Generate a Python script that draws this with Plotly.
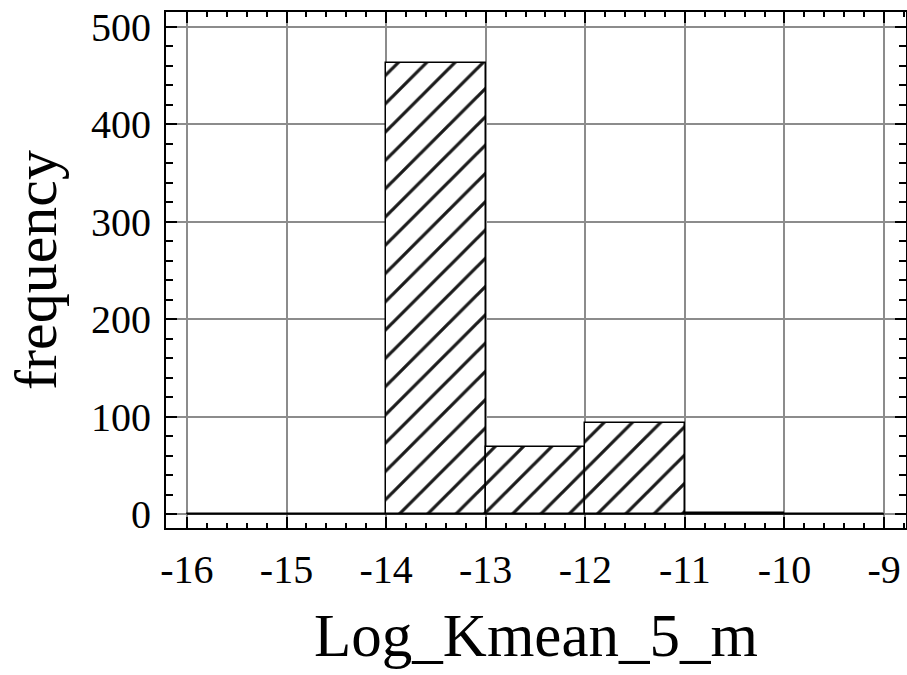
import plotly.graph_objects as go

# Histogram data (bin edges and counts)
bin_edges = [-16, -15, -14, -13, -12, -11, -10, -9]
counts = [0, 0, 463, 69, 93, 1, 0]

x_tick_vals = [-16, -15, -14, -13, -12, -11, -10, -9]
x_tick_text = ["-16", "-15", "-14", "-13", "-12", "-11", "-10", "-9"]
y_tick_vals = [0, 100, 200, 300, 400, 500]
y_tick_text = ["0", "100", "200", "300", "400", "500"]

x_title = "Log_Kmean_5_m"
y_title = "frequency"

centers = [(a + b) / 2 for a, b in zip(bin_edges[:-1], bin_edges[1:])]
widths = [b - a for a, b in zip(bin_edges[:-1], bin_edges[1:])]

FONT = "Liberation Serif, Times New Roman, serif"

fig = go.Figure()
fig.add_trace(go.Bar(
    x=centers, y=counts, width=widths,
    marker=dict(
        color="white",
        line=dict(color="black", width=1.5),
        pattern=dict(shape="/", fgcolor="#1a1a1a", fgopacity=1, bgcolor="white",
                     size=20, solidity=0.16),
    ),
    showlegend=False,
))
# baseline of the histogram outline (zero-height bins)
fig.add_trace(go.Scatter(
    x=[bin_edges[0], bin_edges[-1]], y=[0, 0], mode="lines",
    line=dict(color="black", width=1.5), showlegend=False, hoverinfo="skip",
))

axis_common = dict(
    showline=True, linecolor="black", linewidth=2, mirror="allticks",
    ticks="inside", ticklen=11, tickwidth=2, tickcolor="black",
    showgrid=True, gridcolor="#8c8c8c", gridwidth=1.5,
    zeroline=False, automargin=False, ticklabeloverflow="allow",
    tickfont=dict(family=FONT, size=40, color="black"),
)

fig.update_xaxes(
    range=[-16.21, -8.78],
    tickvals=x_tick_vals, ticktext=x_tick_text,
    minor=dict(dtick=0.2, tick0=-16, ticks="inside", ticklen=5, tickwidth=2, tickcolor="black", showgrid=False),
    title=dict(text=x_title, font=dict(family=FONT, size=61, color="black"), standoff=22),
    ticklabelstandoff=5,
    **axis_common,
)
fig.update_yaxes(
    range=[-14.4, 515.4],
    tickvals=y_tick_vals, ticktext=y_tick_text,
    minor=dict(dtick=20, tick0=0, ticks="inside", ticklen=7, tickwidth=2, tickcolor="black", showgrid=False),
    title=dict(text=y_title, font=dict(family=FONT, size=60, color="black"), standoff=15),
    ticklabelstandoff=5,
    **axis_common,
)

fig.update_layout(
    width=907, height=675,
    margin=dict(l=166, r=1, t=12, b=147),
    paper_bgcolor="white", plot_bgcolor="white",
    bargap=0,
)

# remove the browser's default 8px body margin so the figure fills the window
fig.write_html("out.html", config={"displayModeBar": False},
               post_script="document.body.style.margin='0';")
